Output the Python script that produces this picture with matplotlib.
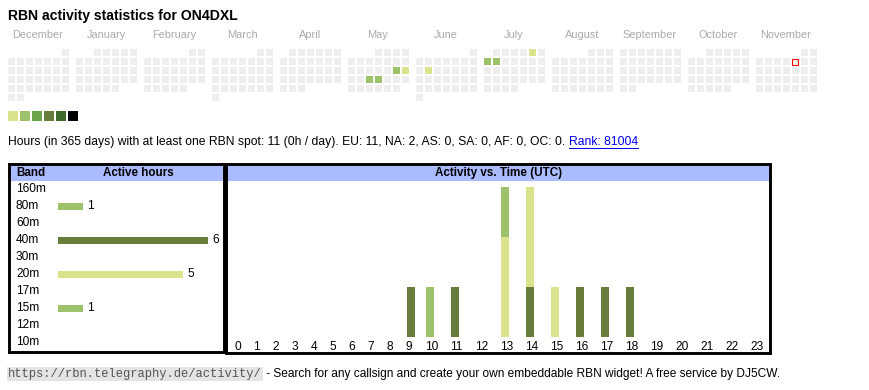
#!/usr/bin/env python
'''RBN activity widget for ON4DXL, redrawn with matplotlib'''

import datetime as dt

import matplotlib
matplotlib.use('Agg')
import matplotlib.pyplot as plt
import matplotlib.transforms as mtrans
from matplotlib.patches import Rectangle

plt.rcParams['font.family'] = ['Liberation Sans', 'DejaVu Sans']

# ---- data ----
callsign = 'ON4DXL'
months = ['December', 'January', 'February', 'March', 'April', 'May', 'June',
          'July', 'August', 'September', 'October', 'November']
cal_start = dt.date(2024, 12, 1)
cal_end = dt.date(2025, 11, 30)
today = dt.date(2025, 11, 7)
active_days = ['2025-05-17', '2025-05-18', '2025-05-21', '2025-05-22',
               '2025-06-10', '2025-07-05', '2025-07-07', '2025-07-08']
active_level = [2, 1, 2, 2, 1, 1, 2, 2]
level_colors = ['#dae28b', '#9dc26b', '#6aa547', '#687c3c', '#3d6b2b', '#000000']

bands = ['160m', '80m', '60m', '40m', '30m', '20m', '17m', '15m', '12m', '10m']
band_hours = [0, 1, 0, 6, 0, 5, 0, 1, 0, 0]
band_colors = {'80m': '#9dc26b', '40m': '#687c3c', '20m': '#dae28b', '15m': '#9dc26b'}

hours = list(range(24))
# spots per hour, stacked bottom -> top in this order
hour_stack = {
    '80m': [0]*10 + [1] + [0]*13,
    '40m': [0]*9 + [1, 0, 1, 0, 0, 1, 0, 1, 1, 1] + [0]*5,
    '20m': [0]*13 + [2, 2, 1] + [0]*8,
    '15m': [0]*13 + [1] + [0]*10,
}

summary = ('Hours (in 365 days) with at least one RBN spot: 11 (0h / day). '
           'EU: 11, NA: 2, AS: 0, SA: 0, AF: 0, OC: 0. ')
rank_text = 'Rank: 81004'
footer_url = 'https://rbn.telegraphy.de/activity/'
footer_text = ' - Search for any callsign and create your own embeddable RBN widget! A free service by DJ5CW.'

W, H = 870, 390
fig = plt.figure(figsize=(W/100, H/100), dpi=100)
bg = fig.add_axes([0, 0, 1, 1])
bg.set_xlim(0, W)
bg.set_ylim(H, 0)
bg.axis('off')


def px_axes(x0, y0, x1, y1):
    '''axes from pixel box (top-left origin)'''
    return fig.add_axes([x0/W, 1 - y1/H, (x1 - x0)/W, (y1 - y0)/H])


# ---- title ----
bg.text(8, 16, f'RBN activity statistics for {callsign}', fontsize=10.1,
        fontweight='bold', va='center', ha='left')

# ---- calendar ----
levels = {dt.date.fromisoformat(d): l for d, l in zip(active_days, active_level)}
for m, name in enumerate(months):
    bg.text(8 + m*68 + 30, 35, name, fontsize=7.9, color='#aaaaaa',
            ha='center', va='center')

d = cal_start
while d <= cal_end:
    m = (d.year - cal_start.year)*12 + d.month - cal_start.month
    first_wd = d.replace(day=1).weekday()
    row = (first_wd + d.day - 1)//7
    x = 8 + m*68 + d.weekday()*9
    y = 49 + row*9
    if d in levels:
        fc = level_colors[levels[d] - 1]
    else:
        fc = '#eeeeee'
    if d == today:
        bg.add_patch(Rectangle((x + 0.5, y + 0.5), 6, 6, facecolor='#f4f4f4',
                               edgecolor='red', lw=0.8))
    else:
        bg.add_patch(Rectangle((x, y), 6.6, 6.6, facecolor=fc, edgecolor='none'))
    d += dt.timedelta(days=1)

for i, c in enumerate(level_colors):
    bg.add_patch(Rectangle((8 + i*12, 111), 10, 10, facecolor=c, edgecolor='none'))

# ---- summary line ----
t = bg.text(8, 142, summary, fontsize=8.72, va='center', ha='left')
link = bg.annotate(rank_text, xy=(1, 0.5), xycoords=t, fontsize=8.72,
                   color='#0000ee', va='center', ha='left')

# ---- band table ----
bg.add_patch(Rectangle((10, 165.3), 213, 15.4, facecolor='#aabbff', edgecolor='none'))
bg.add_patch(Rectangle((9, 164), 215, 187.5, facecolor='none', edgecolor='black',
                       lw=2.1, zorder=5))
bg.text(16, 173, 'Band', fontsize=8.4, fontweight='bold', va='center')
bg.text(138, 173, 'Active hours', fontsize=8.4, fontweight='bold', va='center',
        ha='center')

bax = px_axes(58, 180.8, 220, 350.8)
bax.set_xlim(0, 162/25)
bax.set_ylim(len(bands) - 0.5, -0.5)
bax.axis('off')
bax.patch.set_alpha(0)
rows = list(range(len(bands)))
bax.barh(rows, band_hours, height=7/17,
         color=[band_colors.get(b, '#cccccc') for b in bands])
for r, v in zip(rows, band_hours):
    if v:
        bax.annotate(str(v), xy=(v, r), xytext=(3, 0), textcoords='offset points',
                     fontsize=8.6, va='center', ha='left')
lab_tr = mtrans.blended_transform_factory(bg.transData, bax.transData)
for r, b in zip(rows, bands):
    bax.text(16, r, b, transform=lab_tr, fontsize=8.6, va='center', ha='left')

# ---- activity vs time ----
bg.add_patch(Rectangle((228, 165.3), 542, 15.4, facecolor='#aabbff', edgecolor='none'))
bg.add_patch(Rectangle((226.5, 164), 544, 189.3, facecolor='none', edgecolor='black',
                       lw=2.1, zorder=5))
bg.text(499, 173, 'Activity vs. Time (UTC)', fontsize=8.4, fontweight='bold',
        va='center', ha='center')

widths = [19 if h < 10 else 25 for h in hours]
lefts = [sum(widths[:i]) for i in range(len(hours))]
centers = [l + w/2 for l, w in zip(lefts, widths)]
bar_x = [l + 11 for l in lefts]

hax = px_axes(228, 181, 770, 336.7)
hax.set_xlim(0, sum(widths))
hax.set_ylim(0, (336.7 - 181)/50)
hax.patch.set_alpha(0)
for s in hax.spines.values():
    s.set_visible(False)
hax.set_yticks([])
hax.set_xticks(centers)
hax.set_xticklabels([str(h) for h in hours], fontsize=8.6)
hax.tick_params(axis='x', length=0, pad=3)
bottom = [0]*24
for band, vals in hour_stack.items():
    hax.bar(bar_x, vals, width=8, bottom=bottom, color=band_colors[band])
    bottom = [b + v for b, v in zip(bottom, vals)]

# ---- footer ----
ft = bg.text(8, 374, footer_url, fontsize=8.7, family=['Liberation Mono', 'DejaVu Sans Mono'],
             color='#555555', va='center', ha='left',
             bbox=dict(boxstyle='square,pad=0.12', facecolor='#e4e4e4', edgecolor='none'))
bg.annotate(footer_text, xy=(1, 0.5), xycoords=ft, fontsize=8.6, va='center', ha='left',
            xytext=(1, 0), textcoords='offset points')

# underline the rank link
fig.canvas.draw()
bb = link.get_window_extent()
inv = bg.transData.inverted()
(x0, y0), (x1, _) = inv.transform([(bb.x0, bb.y0), (bb.x1, bb.y0)])
bg.plot([x0, x1], [y0 - 0.5, y0 - 0.5], color='#0000ee', lw=0.7)

fig.savefig('out.png', dpi=100)
